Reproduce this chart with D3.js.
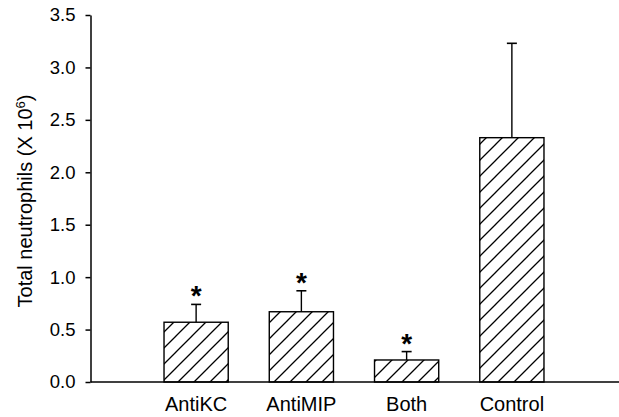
<!DOCTYPE html>
<html><head><meta charset="utf-8">
<script src="https://cdn.jsdelivr.net/npm/d3@7"></script>
<style>
html,body{margin:0;padding:0;background:#fff;}
text{font-family:"Liberation Sans",Arial,sans-serif;fill:#000;}
</style>
</head><body>
<svg id="chart" width="619" height="417"></svg>
<script>
const categories = ["AntiKC", "AntiMIP", "Both", "Control"];
const means = [0.57, 0.67, 0.21, 2.33];
const errors = [0.17, 0.20, 0.08, 0.90];
const significant = [true, true, true, false];
const yTicks = [0, 0.5, 1.0, 1.5, 2.0, 2.5, 3.0, 3.5];

const svg = d3.select("#chart");
const axisX = 90.5, baseY = 382, topY = 15;

const y = d3.scaleLinear().domain([0, 3.5]).range([baseY, topY]);
const x = d3.scaleBand().domain(categories).range([143.5, 564.5])
  .paddingInner(0.39).paddingOuter(0.195);

const defs = svg.append("defs");
const pat = defs.append("pattern").attr("id", "hatch")
  .attr("patternUnits", "userSpaceOnUse").attr("width", 16).attr("height", 16);
pat.append("path").attr("d", "M-4,4 L4,-4 M0,16 L16,0 M12,20 L20,12")
  .attr("stroke", "#000").attr("stroke-width", 1.3);

// y axis
const yAxis = d3.axisLeft(y).tickValues(yTicks).tickFormat(d3.format(".1f"))
  .tickSize(5).tickSizeOuter(0);
const gy = svg.append("g").attr("transform", `translate(${axisX},0)`).call(yAxis);
gy.select(".domain").attr("stroke", "#000").attr("stroke-width", 1.5);
gy.selectAll(".tick line").attr("stroke", "#000").attr("stroke-width", 1.5);
gy.selectAll(".tick text").attr("x", -15).style("font-size", "18.5px")
  .style("font-family", "'Liberation Sans', Arial, sans-serif");

// baseline
svg.append("line").attr("x1", axisX).attr("x2", 619)
  .attr("y1", y(0)).attr("y2", y(0)).attr("stroke", "#000").attr("stroke-width", 1.5);

// error bars
const eg = svg.append("g");
categories.forEach((c, i) => {
  const cx = x(c) + x.bandwidth() / 2;
  eg.append("line").attr("x1", cx).attr("x2", cx)
    .attr("y1", y(means[i])).attr("y2", y(means[i] + errors[i]))
    .attr("stroke", "#000").attr("stroke-width", 1.4);
  eg.append("line").attr("x1", cx - 5).attr("x2", cx + 5)
    .attr("y1", y(means[i] + errors[i])).attr("y2", y(means[i] + errors[i]))
    .attr("stroke", "#000").attr("stroke-width", 1.6);
});

// bars
svg.append("g").selectAll("rect").data(categories).join("rect")
  .attr("x", d => x(d)).attr("width", x.bandwidth())
  .attr("y", (d, i) => y(means[i])).attr("height", (d, i) => y(0) - y(means[i]))
  .attr("fill", "url(#hatch)").attr("stroke", "#000").attr("stroke-width", 1.4);

// significance stars
svg.append("g").selectAll("text").data(categories.filter((c, i) => significant[i])).join("text")
  .attr("x", d => x(d) + x.bandwidth() / 2)
  .attr("y", d => { const i = categories.indexOf(d); return y(means[i] + errors[i]) + 1; })
  .attr("text-anchor", "middle").style("font-size", "28px").style("font-weight", "bold")
  .text("*");

// x labels
svg.append("g").selectAll("text").data(categories).join("text")
  .attr("x", d => x(d) + x.bandwidth() / 2).attr("y", 411)
  .attr("text-anchor", "middle").style("font-size", "20px").text(d => d);

// y label
const yl = svg.append("text").attr("transform", "translate(32,201) rotate(-90)")
  .attr("text-anchor", "middle").style("font-size", "20px");
yl.append("tspan").text("Total neutrophils (X 10");
yl.append("tspan").attr("dy", -7).style("font-size", "13px").text("6");
yl.append("tspan").attr("dy", 7).text(")");
</script>
</body></html>
